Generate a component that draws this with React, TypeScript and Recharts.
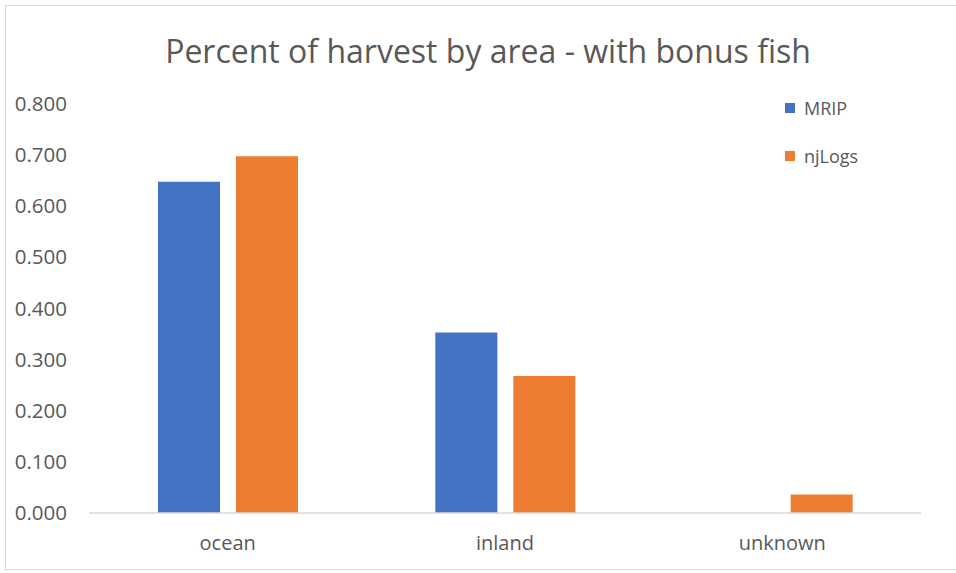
import React from "react";
import { BarChart, Bar, XAxis, YAxis, Legend } from "recharts";

const categories = ["ocean", "inland", "unknown"];
const mripValues = [0.648, 0.353, 0];
const njLogsValues = [0.698, 0.268, 0.036];
const yTicks = [0, 0.1, 0.2, 0.3, 0.4, 0.5, 0.6, 0.7, 0.8];

const data = categories.map((c, i) => ({ area: c, MRIP: mripValues[i], njLogs: njLogsValues[i] }));

const FONT = "'Open Sans', sans-serif";
const GREY = "#595959";

const YTick = (props: any) => {
  const { x, y, payload } = props;
  return (
    <text x={x} y={y} dx={-14} dy={7} textAnchor="end" fill={GREY} fontSize={20.5} fontFamily={FONT}>
      {Number(payload.value).toFixed(3)}
    </text>
  );
};

const XTick = (props: any) => {
  const { x, y, payload } = props;
  return (
    <text x={x} y={y} dy={29} textAnchor="middle" fill={GREY} fontSize={20} fontFamily={FONT}>
      {payload.value}
    </text>
  );
};

const renderLegend = (props: any) => {
  const { payload } = props;
  return (
    <div style={{ fontFamily: FONT }}>
      {payload.map((p: any) => (
        <div key={p.value} style={{ display: "flex", alignItems: "center", height: 48 }}>
          <span style={{ display: "inline-block", width: 10, height: 10, background: p.color, marginRight: 9 }} />
          <span style={{ fontSize: 18, color: GREY }}>{p.value}</span>
        </div>
      ))}
    </div>
  );
};

export default function App() {
  return (
    <div
      style={{
        position: "absolute",
        left: 0,
        top: 0,
        width: 956,
        height: 573,
        background: "#ffffff",
      }}
    >
      <div
        style={{
          position: "absolute",
          left: 5,
          top: 5,
          width: 960,
          height: 565,
          border: "1px solid #d9d9d9",
          boxSizing: "border-box",
        }}
      />
      <div
        style={{
          position: "absolute",
          left: 0,
          top: 29,
          width: 976,
          textAlign: "center",
          fontFamily: FONT,
          fontSize: 32,
          color: GREY,
        }}
      >
        Percent of harvest by area - with bonus fish
      </div>
      <div style={{ position: "absolute", left: 0, top: 0 }}>
        <BarChart
          width={956}
          height={573}
          data={data}
          margin={{ top: 104, right: 35, bottom: 30, left: 5 }}
          barGap={16}
          barSize={62}
        >
          <XAxis
            dataKey="area"
            axisLine={{ stroke: "#d9d9d9", strokeWidth: 1.5 }}
            tickLine={false}
            height={30}
            tick={<XTick />}
          />
          <YAxis
            domain={[0, 0.8]}
            ticks={yTicks}
            axisLine={false}
            tickLine={false}
            width={84}
            tick={<YTick />}
            interval={0}
          />
          <Legend
            layout="vertical"
            verticalAlign="middle"
            align="center"
            content={renderLegend}
            wrapperStyle={{ position: "absolute", left: 785, top: 84, width: 120 }}
          />
          <Bar dataKey="MRIP" fill="#4472C4" isAnimationActive={false} />
          <Bar dataKey="njLogs" fill="#ED7D31" isAnimationActive={false} />
        </BarChart>
      </div>
    </div>
  );
}
